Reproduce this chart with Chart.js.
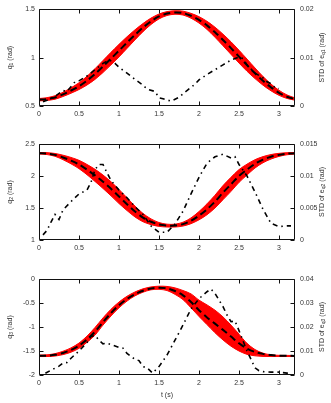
<!DOCTYPE html>
<html><head><meta charset="utf-8">
<script src="https://cdn.jsdelivr.net/npm/chart.js@4.4.1/dist/chart.umd.min.js"></script>
<style>
html,body{margin:0;padding:0;background:#fff;}
#wrap{position:relative;width:331px;height:403px;overflow:hidden;}
canvas{position:absolute;left:0;}
</style></head>
<body><div id="wrap">
<canvas id="c1" width="331" height="130" style="top:0px"></canvas>
<canvas id="c2" width="331" height="135" style="top:130px"></canvas>
<canvas id="c3" width="331" height="138" style="top:265px"></canvas>
</div>
<script>
// ---- time grid and tick labels ----
const T = [0,0.1,0.2,0.3,0.4,0.5,0.6,0.7,0.8,0.9,1.0,1.1,1.2,1.3,1.4,1.5,1.6,1.7,1.8,1.9,2.0,2.1,2.2,2.3,2.4,2.5,2.6,2.7,2.8,2.9,3.0,3.1,3.2];
const xTicks = [0,0.5,1,1.5,2,2.5,3];

// ---- joint 1 ----
const q1Mean  = [0.565,0.572,0.588,0.620,0.660,0.705,0.762,0.830,0.908,0.990,1.072,1.155,1.235,1.310,1.375,1.425,1.455,1.466,1.460,1.432,1.390,1.333,1.262,1.182,1.098,1.010,0.922,0.838,0.760,0.692,0.636,0.596,0.572];
const q1Upper = [0.577,0.586,0.606,0.642,0.688,0.740,0.807,0.885,0.970,1.055,1.137,1.215,1.287,1.352,1.408,1.450,1.475,1.484,1.480,1.457,1.423,1.375,1.314,1.242,1.163,1.076,0.985,0.893,0.805,0.727,0.662,0.614,0.584];
const q1Lower = [0.553,0.558,0.570,0.598,0.632,0.670,0.717,0.775,0.846,0.925,1.007,1.095,1.183,1.268,1.342,1.400,1.435,1.448,1.440,1.407,1.357,1.291,1.210,1.122,1.033,0.944,0.859,0.783,0.715,0.657,0.610,0.578,0.560];
const std1T = [0.05,0.1,0.2,0.3,0.35,0.45,0.5,0.6,0.7,0.8,0.88,0.95,1.0,1.1,1.2,1.3,1.35,1.45,1.5,1.55,1.65,1.75,1.85,1.95,2.0,2.1,2.2,2.3,2.4,2.5,2.55,2.6,2.7,2.8,2.85,2.9,2.95,3.0];
const std1  = [0.0009,0.0012,0.0020,0.0032,0.0030,0.0050,0.0052,0.0062,0.0075,0.0088,0.0095,0.0088,0.0080,0.0068,0.0055,0.0043,0.0035,0.0030,0.0017,0.0015,0.0010,0.0018,0.0032,0.0045,0.0054,0.0065,0.0075,0.0085,0.0095,0.0101,0.0098,0.0085,0.0068,0.0058,0.0050,0.0046,0.0038,0.0036];
const q1Ticks = [0.5,1,1.5];
const std1Ticks = [0,0.01,0.02];

// ---- joint 2 ----
const q2Mean  = [2.355,2.350,2.330,2.290,2.240,2.180,2.100,2.010,1.910,1.800,1.680,1.560,1.445,1.350,1.285,1.243,1.225,1.225,1.248,1.300,1.380,1.480,1.600,1.740,1.870,2.000,2.100,2.190,2.255,2.300,2.330,2.348,2.355];
const q2Upper = [2.367,2.365,2.352,2.325,2.290,2.245,2.180,2.105,2.015,1.910,1.790,1.660,1.530,1.415,1.330,1.273,1.247,1.247,1.278,1.345,1.445,1.565,1.700,1.850,1.980,2.100,2.185,2.255,2.303,2.335,2.354,2.364,2.367];
const q2Lower = [2.343,2.335,2.308,2.255,2.190,2.115,2.020,1.915,1.805,1.690,1.570,1.460,1.360,1.285,1.240,1.213,1.203,1.203,1.218,1.255,1.315,1.395,1.500,1.630,1.760,1.900,2.015,2.125,2.207,2.265,2.306,2.332,2.343];
const std2T = [0.05,0.1,0.15,0.2,0.25,0.3,0.4,0.5,0.6,0.65,0.7,0.75,0.8,0.85,0.9,1.0,1.1,1.2,1.3,1.4,1.5,1.6,1.7,1.8,1.9,2.0,2.1,2.2,2.3,2.4,2.45,2.5,2.6,2.7,2.8,2.9,3.0,3.1,3.15];
const std2  = [0.0008,0.0015,0.0028,0.0040,0.0032,0.0047,0.0060,0.0072,0.0078,0.0090,0.0110,0.0118,0.0118,0.0105,0.0093,0.0078,0.0066,0.0052,0.0040,0.0022,0.0012,0.0012,0.0025,0.0045,0.0072,0.0098,0.0120,0.0130,0.0134,0.0128,0.0130,0.0118,0.0100,0.0075,0.0048,0.0026,0.0021,0.0022,0.0022];
const q2Ticks = [1,1.5,2,2.5];
const std2Ticks = [0,0.005,0.01,0.015];

// ---- joint 3 ----
const q3Mean  = [-1.600,-1.598,-1.580,-1.540,-1.480,-1.390,-1.260,-1.100,-0.900,-0.710,-0.545,-0.415,-0.315,-0.245,-0.198,-0.182,-0.195,-0.250,-0.340,-0.480,-0.650,-0.800,-0.930,-1.060,-1.200,-1.340,-1.450,-1.520,-1.560,-1.585,-1.597,-1.600,-1.602];
const q3Upper = [-1.585,-1.580,-1.555,-1.505,-1.435,-1.335,-1.190,-1.010,-0.810,-0.630,-0.480,-0.360,-0.270,-0.205,-0.165,-0.150,-0.155,-0.185,-0.240,-0.310,-0.440,-0.540,-0.650,-0.790,-0.960,-1.150,-1.340,-1.470,-1.545,-1.580,-1.590,-1.592,-1.594];
const q3Lower = [-1.615,-1.615,-1.605,-1.575,-1.525,-1.445,-1.320,-1.170,-0.960,-0.770,-0.600,-0.460,-0.350,-0.275,-0.225,-0.215,-0.240,-0.320,-0.430,-0.600,-0.780,-0.950,-1.120,-1.270,-1.400,-1.500,-1.570,-1.600,-1.612,-1.615,-1.615,-1.615,-1.615];
const std3T = [0.08,0.15,0.25,0.3,0.35,0.4,0.5,0.6,0.65,0.7,0.75,0.8,0.85,0.9,1.0,1.05,1.1,1.2,1.25,1.3,1.35,1.42,1.5,1.6,1.7,1.8,1.9,2.0,2.1,2.15,2.2,2.3,2.35,2.4,2.45,2.5,2.6,2.7,2.75,2.8,2.9,3.0,3.1,3.15];
const std3  = [0.0007,0.0020,0.0037,0.0050,0.0052,0.0070,0.0100,0.0135,0.0160,0.0165,0.0145,0.0130,0.0133,0.0127,0.0115,0.0112,0.0090,0.0065,0.0060,0.0035,0.0030,0.0008,0.0035,0.0083,0.0145,0.0208,0.0275,0.0318,0.0347,0.0358,0.0340,0.0285,0.0250,0.0222,0.0225,0.0185,0.0100,0.0030,0.0018,0.0014,0.0012,0.0012,0.0008,0.0008];
const q3Ticks = [-2,-1.5,-1,-0.5,0];
const std3Ticks = [0,0.01,0.02,0.03,0.04];

// ---- drawing ----
const FONT = '"Liberation Sans", Arial, sans-serif';
const TXT = '#333';
const pts = (xs, ys) => xs.map((x, i) => ({x: x, y: ys[i]}));

function drawRich(ctx, parts, cx, cy, size) {
  ctx.save();
  ctx.translate(cx, cy);
  ctx.rotate(-Math.PI / 2);
  ctx.textBaseline = 'middle';
  ctx.textAlign = 'left';
  ctx.fillStyle = TXT;
  let total = 0;
  parts.forEach(p => { ctx.font = (p.s ? size * 0.72 : size) + 'px ' + FONT; p.w = ctx.measureText(p.t).width; total += p.w; });
  let x = -total / 2;
  parts.forEach(p => { ctx.font = (p.s ? size * 0.72 : size) + 'px ' + FONT; ctx.fillText(p.t, x, p.s ? 2 : 0); x += p.w; });
  ctx.restore();
}

const framePlugin = {
  id: 'frame',
  afterDraw(chart, args, opts) {
    const ctx = chart.ctx, a = chart.chartArea;
    ctx.save();
    ctx.strokeStyle = '#111';
    ctx.lineWidth = 1;
    ctx.beginPath();
    const L = Math.round(a.left) + 0.5, R = Math.round(a.right) - 0.5, Tp = Math.round(a.top) + 0.5, B = Math.round(a.bottom) - 0.5;
    ctx.rect(L, Tp, R - L, B - Tp);
    const tl = 4;
    chart.scales.x.ticks.forEach(t => {
      const px = Math.round(chart.scales.x.getPixelForValue(t.value)) + 0.5;
      ctx.moveTo(px, B); ctx.lineTo(px, B - tl);
      ctx.moveTo(px, Tp); ctx.lineTo(px, Tp + tl);
    });
    chart.scales.y.ticks.forEach(t => {
      const py = Math.round(chart.scales.y.getPixelForValue(t.value)) + 0.5;
      ctx.moveTo(L, py); ctx.lineTo(L + tl, py);
    });
    chart.scales.y2.ticks.forEach(t => {
      const py = Math.round(chart.scales.y2.getPixelForValue(t.value)) + 0.5;
      ctx.moveTo(R, py); ctx.lineTo(R - tl, py);
    });
    ctx.stroke();
    ctx.restore();
    const cy = (a.top + a.bottom) / 2;
    drawRich(ctx, opts.left, 10, cy, 7);
    drawRich(ctx, opts.right, 322, cy, 7);
    if (opts.xTitle) {
      ctx.save();
      ctx.font = '7px ' + FONT; ctx.fillStyle = TXT;
      ctx.textAlign = 'center'; ctx.textBaseline = 'middle';
      ctx.fillText(opts.xTitle, (a.left + a.right) / 2, a.bottom + 20);
      ctx.restore();
    }
  }
};

function makeChart(id, cfg) {
  const tickFont = {family: FONT, size: 7};
  const setTicks = vals => s => { s.ticks = vals.map(v => ({value: v})); };
  return new Chart(document.getElementById(id), {
    type: 'line',
    data: {datasets: [
      {data: pts(cfg.stdT, cfg.std), yAxisID: 'y2', borderColor: '#000', borderWidth: 1.6, borderDash: [5,4,1.5,4], pointRadius: 0, tension: 0, fill: false, order: 0},
      {data: pts(T, cfg.mean), yAxisID: 'y', borderColor: '#000', borderWidth: 2, borderDash: [7,4], pointRadius: 0, tension: 0.3, fill: false, order: 1},
      {data: pts(T, cfg.upper), yAxisID: 'y', borderColor: '#f00', backgroundColor: '#f00', borderWidth: 1, pointRadius: 0, tension: 0.3, fill: '+1', order: 2},
      {data: pts(T, cfg.lower), yAxisID: 'y', borderColor: '#f00', borderWidth: 1, pointRadius: 0, tension: 0.3, fill: false, order: 3}
    ]},
    options: {
      responsive: false, animation: false, devicePixelRatio: 1,
      layout: {padding: {top: cfg.padTop, left: 0, right: 0, bottom: 0}},
      plugins: {legend: {display: false}, tooltip: {enabled: false},
        frame: {left: cfg.leftTitle, right: cfg.rightTitle, xTitle: cfg.xTitle}},
      scales: {
        x: {type: 'linear', min: 0, max: 3.2, position: 'bottom',
            afterBuildTicks: setTicks(xTicks), afterFit: s => { s.height = cfg.xH; },
            grid: {display: false, drawTicks: false}, border: {display: false},
            ticks: {font: tickFont, color: TXT, padding: 4, maxRotation: 0, callback: v => String(v)}},
        y: {type: 'linear', min: cfg.yMin, max: cfg.yMax, position: 'left',
            afterBuildTicks: setTicks(cfg.yTicks), afterFit: s => { s.width = 39; },
            grid: {display: false, drawTicks: false}, border: {display: false},
            ticks: {font: tickFont, color: TXT, padding: 4, callback: v => String(v)}},
        y2: {type: 'linear', min: 0, max: cfg.y2Max, position: 'right',
            afterBuildTicks: setTicks(cfg.y2Ticks), afterFit: s => { s.width = 36; },
            grid: {display: false, drawTicks: false}, border: {display: false},
            ticks: {font: tickFont, color: TXT, padding: 5, callback: v => String(v)}}
      }
    },
    plugins: [framePlugin]
  });
}

makeChart('c1', {mean: q1Mean, upper: q1Upper, lower: q1Lower, stdT: std1T, std: std1,
  yMin: 0.5, yMax: 1.5, yTicks: q1Ticks, y2Max: 0.02, y2Ticks: std1Ticks, padTop: 9, xH: 24,
  leftTitle: [{t: 'q'}, {t: '1', s: 1}, {t: ' (rad)'}],
  rightTitle: [{t: 'STD of e'}, {t: 'q1', s: 1}, {t: ' (rad)'}]});
makeChart('c2', {mean: q2Mean, upper: q2Upper, lower: q2Lower, stdT: std2T, std: std2,
  yMin: 1, yMax: 2.5, yTicks: q2Ticks, y2Max: 0.015, y2Ticks: std2Ticks, padTop: 14, xH: 25,
  leftTitle: [{t: 'q'}, {t: '2', s: 1}, {t: ' (rad)'}],
  rightTitle: [{t: 'STD of e'}, {t: 'q2', s: 1}, {t: ' (rad)'}]});
makeChart('c3', {mean: q3Mean, upper: q3Upper, lower: q3Lower, stdT: std3T, std: std3,
  yMin: -2, yMax: 0, yTicks: q3Ticks, y2Max: 0.04, y2Ticks: std3Ticks, padTop: 14, xH: 28,
  leftTitle: [{t: 'q'}, {t: '3', s: 1}, {t: ' (rad)'}],
  rightTitle: [{t: 'STD of e'}, {t: 'q3', s: 1}, {t: ' (rad)'}], xTitle: 't (s)'});
</script>
</body></html>
